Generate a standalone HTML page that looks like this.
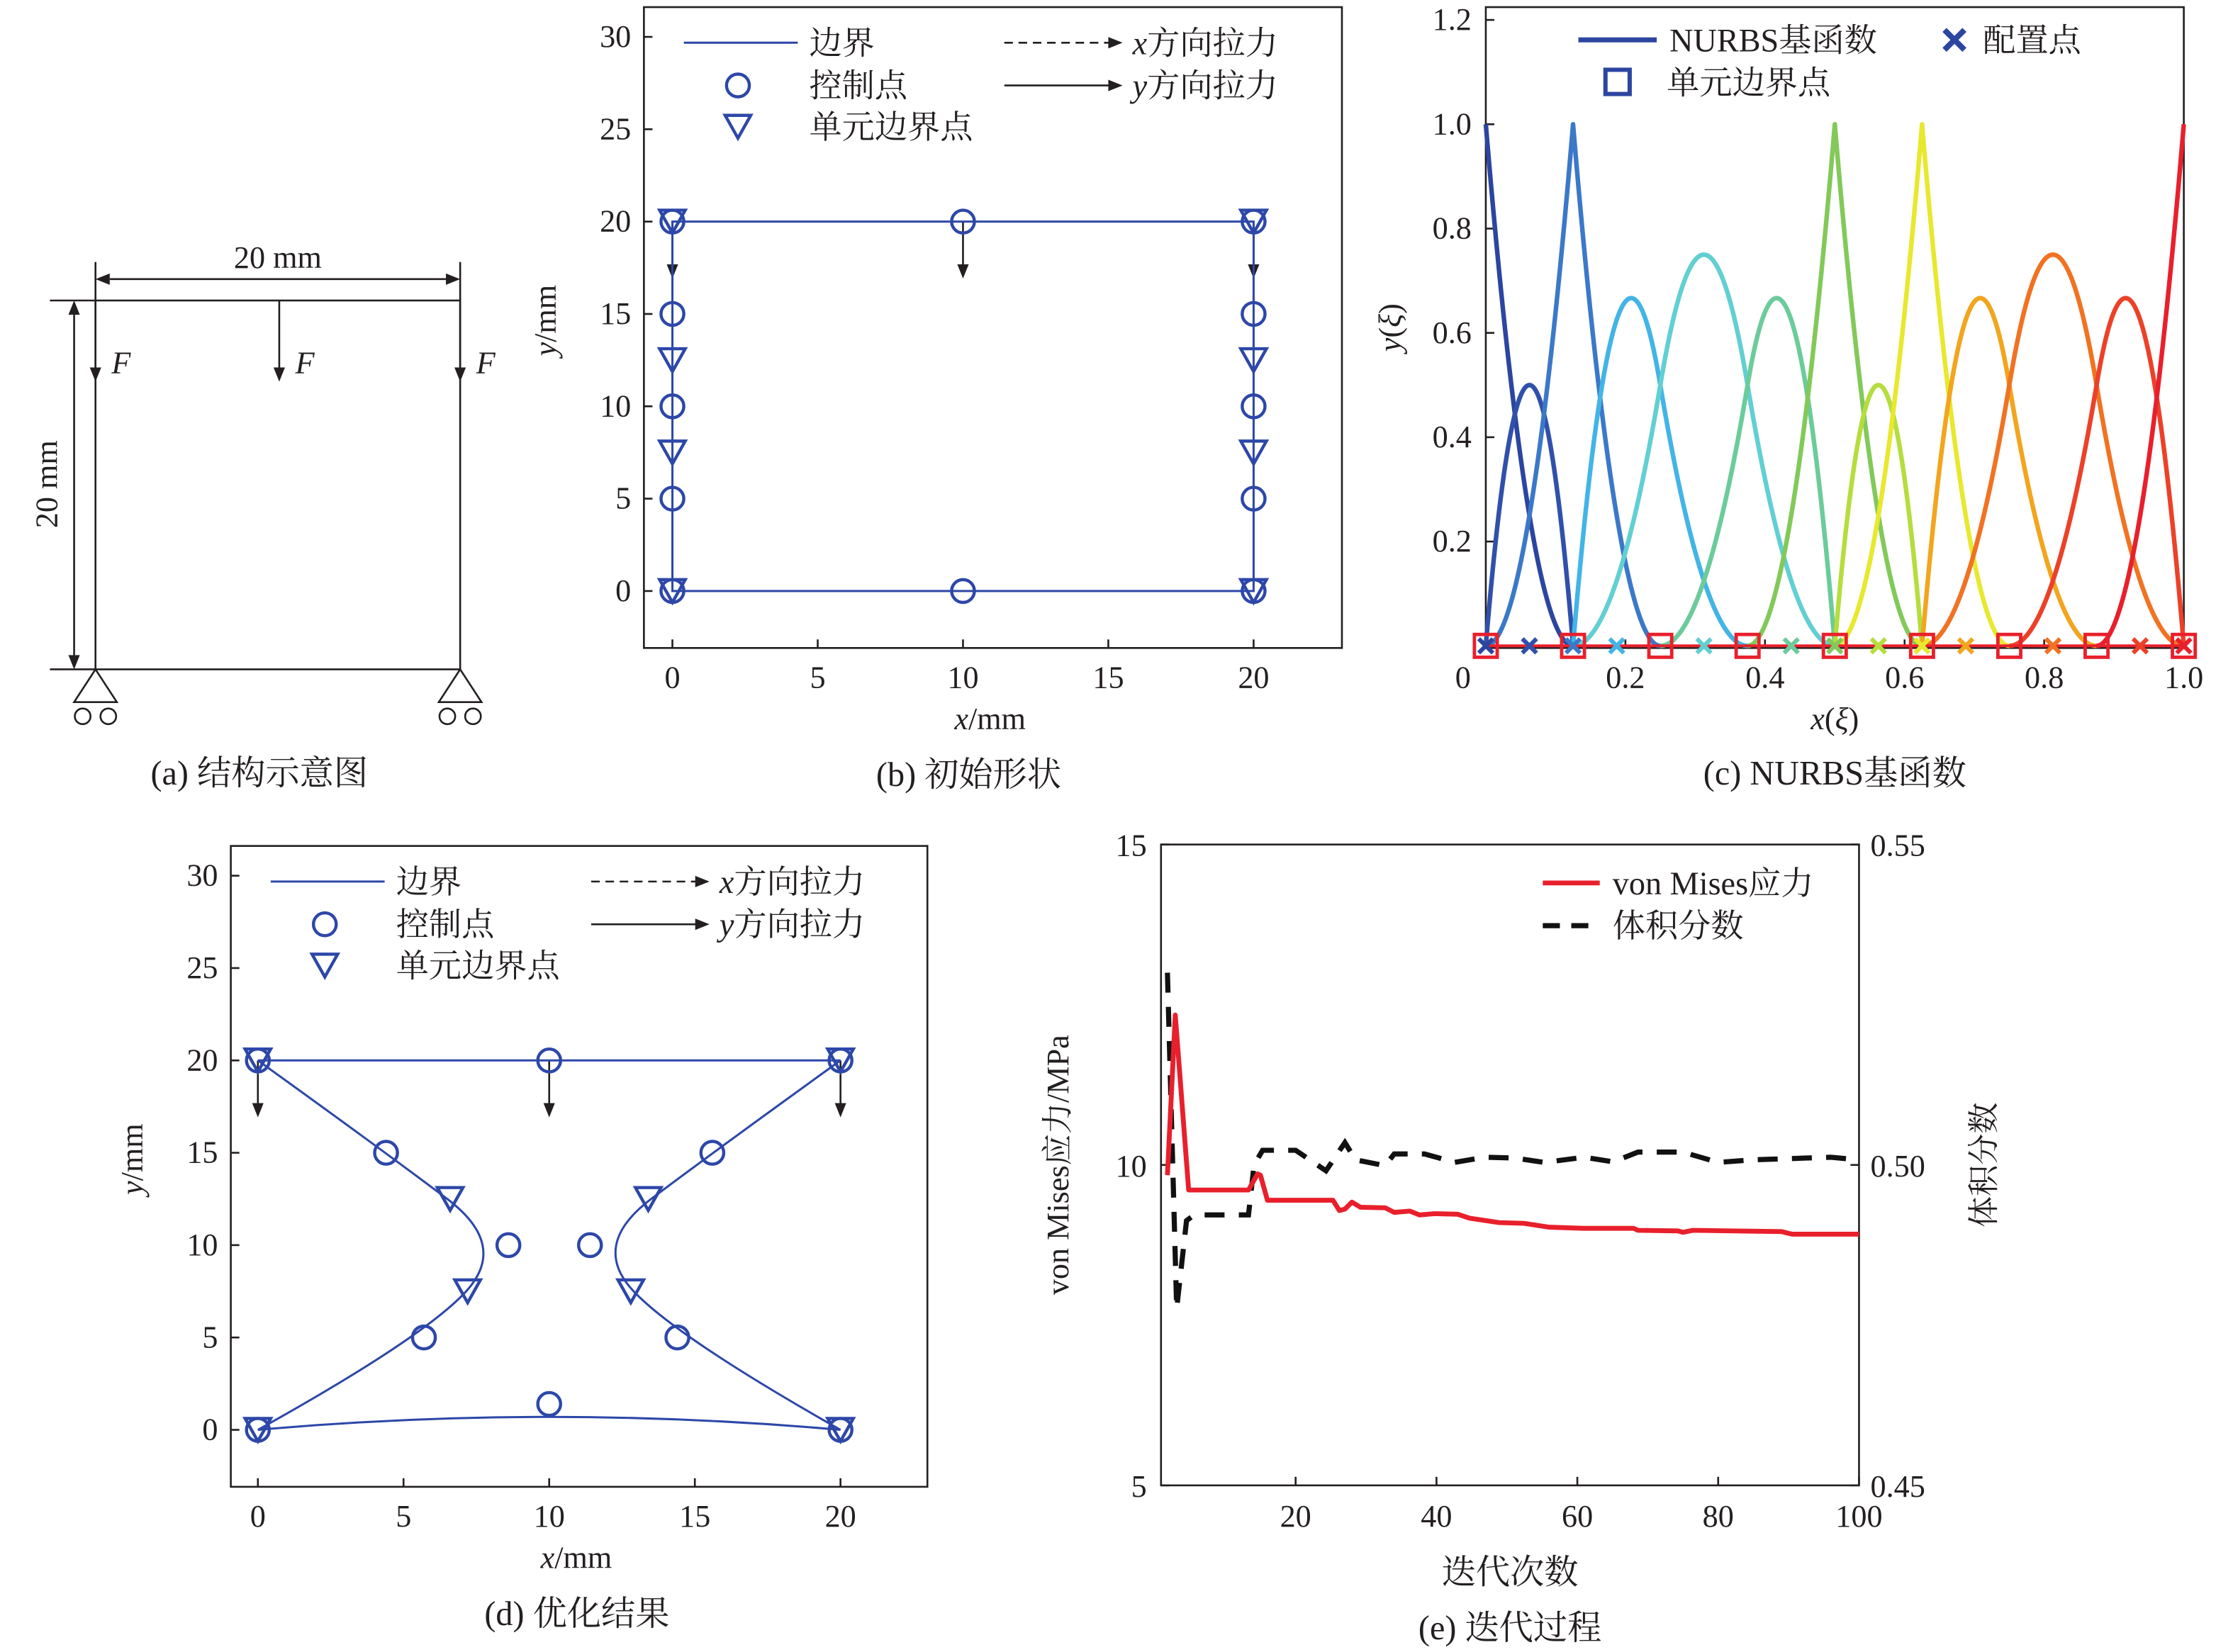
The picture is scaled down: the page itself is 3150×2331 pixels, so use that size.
<!DOCTYPE html>
<html><head><meta charset="utf-8"><style>
html,body{margin:0;padding:0;background:#fff;}
svg{display:block;}
text{font-family:"Liberation Serif","Noto Serif CJK SC",serif;fill:#231f20;}
</style></head><body>
<svg id="fig" xmlns="http://www.w3.org/2000/svg" width="3150" height="2331" viewBox="0 0 1567.5 1160">
<rect x="0" y="0" width="1570" height="1165" fill="#fff"/>
</svg>
<script>
// ---------- data ----------
const bCircleX=[0,0,0,0,0,10,20,20,20,20,20,10];
const bCircleY=[0,5,10,15,20,20,20,15,10,5,0,0];
const bTriX=[0,0,0,0,20,20,20,20];
const bTriY=[0,7.5,12.5,20,0,7.5,12.5,20];
const dLeftX=[0,4.4,8.6,5.7,0];
const dLeftY=[20,15,10,5,0];
const dRightX=[20,15.6,11.4,14.4,20];
const dRightY=[20,15,10,5,0];
const dBottomX=[0,10,20];
const dBottomY=[0,1.4,0];
const dTriX=[0,6.6,7.2,0,20,13.4,12.8,20];
const dTriY=[20,12.5,7.5,0,20,12.5,7.5,0];
const axisTicks=[0,5,10,15,20];
const axisYTicks=[0,5,10,15,20,25,30];
const knots=[0,0,0,0.125,0.125,0.25,0.375,0.5,0.5,0.625,0.625,0.75,0.875,1,1,1];
const basisColors=['#2c45a0','#3050aa','#3b78c8','#43b4e6','#62cfd2','#6ccb9a','#82c95a','#b5dd3e','#e8e82e','#f2a51e','#f17222','#ec4129','#e8202c'];
const collocX=[0,0.0625,0.125,0.1875,0.3125,0.4375,0.5,0.5625,0.625,0.6875,0.8125,0.9375,1];
const elemBounds=[0,0.125,0.25,0.375,0.5,0.625,0.75,0.875,1];
const cXTicks=[0.2,0.4,0.6,0.8,1.0];
const cXTickLabels=['0.2','0.4','0.6','0.8','1.0'];
const cYTicks=[0.2,0.4,0.6,0.8,1.0,1.2];
const cYTickLabels=['0.2','0.4','0.6','0.8','1.0','1.2'];
const stressIter=[1.8,2.9,4.8,13.3,14.6,15,16,25.3,26.2,27,28,29.2,32.7,34,36.2,37.6,39.7,43,44.7,48.9,52.4,56,60.9,68,68.6,74.3,75,76.4,89,90.5,100];
const stressVals=[9.84,12.34,9.61,9.61,9.86,9.84,9.45,9.45,9.29,9.31,9.42,9.34,9.33,9.26,9.28,9.22,9.24,9.23,9.17,9.10,9.09,9.03,9.01,9.01,8.98,8.97,8.95,8.98,8.96,8.92,8.92];
const volIter=[1.8,3.1,4.5,5.6,13.3,14.1,15.3,20,24.3,27,28.5,32.7,34,38.3,42.6,46.8,51,55.3,61,65.1,68.6,75,80,84.9,96,100];
const volVals=[0.530,0.4776,0.4913,0.4922,0.4922,0.500,0.5023,0.5023,0.4991,0.5035,0.5008,0.4999,0.5017,0.5017,0.5004,0.5012,0.5011,0.5004,0.5012,0.5005,0.5020,0.5020,0.5004,0.5008,0.5012,0.5008];
const eXTicks=[20,40,60,80,100];
const eYTicks=[5,10,15];
const eY2Ticks=['0.45','0.50','0.55'];

// ---------- helpers ----------
const NS='http://www.w3.org/2000/svg';
const svg=document.getElementById('fig');
function el(tag,attrs,parent){const e=document.createElementNS(NS,tag);for(const k in attrs)e.setAttribute(k,attrs[k]);(parent||svg).appendChild(e);return e;}
function grp(name){const g=el('g',{});


return g;}
function txt(p,x,y,s,size,anchor,name,extra){const t=el('text',Object.assign({x:x,y:y,'font-size':size,'text-anchor':anchor||'middle'},extra||{}),p);t.textContent=s;


return t;}
function ln(p,x1,y1,x2,y2,c,w,dash){const a={x1:x1,y1:y1,x2:x2,y2:y2,stroke:c||'#231f20','stroke-width':w||1.3};if(dash)a['stroke-dasharray']=dash;return el('line',a,p);}
function arrowDown(p,x,y1,y2){ln(p,x,y1,x,y2-8,'#231f20',1.3);el('path',{d:`M${x-4},${y2-10} L${x+4},${y2-10} L${x},${y2} Z`,fill:'#231f20'},p);}
function arrowRight(p,x1,x2,y,dash){ln(p,x1,y,x2-8,y,'#231f20',1.3,dash);el('path',{d:`M${x2-10},${y-4} L${x2-10},${y+4} L${x2},${y} Z`,fill:'#231f20'},p);}
function arrowLeft(p,x1,x2,y){el('path',{d:`M${x1+10},${y-4} L${x1+10},${y+4} L${x1},${y} Z`,fill:'#231f20'},p);}
const BLUE='#2d47a8';
function circ(p,x,y,name){const c=el('circle',{cx:x,cy:y,r:8,fill:'none',stroke:BLUE,'stroke-width':2.2},p);

}
function tri(p,x,y,name){const t=el('path',{d:`M${x-9},${y-8} L${x+9},${y-8} L${x},${y+8} Z`,fill:'none',stroke:BLUE,'stroke-width':2.2},p);

}

// ---------- panel a ----------
(function(){const g=grp('panel-a-structure');
el('rect',{x:67,y:211,width:256,height:259,fill:'none',stroke:'#231f20','stroke-width':1.3},g);
ln(g,67,184,67,211);ln(g,323,184,323,211);
ln(g,77,196,313,196);arrowLeft(g,67,77,196);
el('path',{d:'M313,192 L313,200 L323,196 Z',fill:'#231f20'},g);
txt(g,195,188,'20 mm',22,'middle','top-dimension-label');
ln(g,35,211,67,211);ln(g,35,470,67,470);
ln(g,52,221,52,460);
el('path',{d:'M48,221 L56,221 L52,211 Z',fill:'#231f20'},g);
el('path',{d:'M48,460 L56,460 L52,470 Z',fill:'#231f20'},g);
txt(g,40,340,'20 mm',22,'middle','left-dimension-label',{transform:'rotate(-90 40 340)'});
[67,196,323].forEach((x,i)=>{arrowDown(g,x,211,268);txt(g,x+18,262,'F',22,'middle','force-label-'+(i+1),{'font-style':'italic'});});
[67,323].forEach((x,i)=>{el('path',{d:`M${x},470 L${x-15},493 L${x+15},493 Z`,fill:'none',stroke:'#231f20','stroke-width':1.3},g);
el('circle',{cx:x-9,cy:503,r:5.5,fill:'none',stroke:'#231f20','stroke-width':1.3},g);
el('circle',{cx:x+9,cy:503,r:5.5,fill:'none',stroke:'#231f20','stroke-width':1.3},g);});
txt(g,182,551,'(a) 结构示意图',24,'middle','caption-a');
})();

// ---------- shared shape panel builder ----------
function shapePanel(name,box,x0,y0,ux,uy,draw,caption,capX){
const g=grp(name);
el('rect',{x:box[0],y:box[1],width:box[2]-box[0],height:box[3]-box[1],fill:'none',stroke:'#231f20','stroke-width':1.3},g);
const X=v=>x0+v*ux, Y=v=>y0-v*uy;
axisTicks.forEach(v=>{ln(g,X(v),box[3],X(v),box[3]-6);txt(g,X(v),box[3]+28,String(v),22,'middle','x-tick-'+v);});
axisYTicks.forEach(v=>{ln(g,box[0],Y(v),box[0]+6,Y(v));txt(g,box[0]-9,Y(v)+7,String(v),22,'end','y-tick-'+v);});
txt(g,(box[0]+box[2])/2-2,box[3]+57,'',22,'middle','x-axis-title').innerHTML='<tspan font-style="italic">x</tspan>/mm';
const yl=box[0]-62, yc=225+(box[1]-5);
txt(g,yl,yc,'',22,'middle','y-axis-title',{transform:`rotate(-90 ${yl} ${yc})`}).innerHTML='<tspan font-style="italic">y</tspan>/mm';
const lx=box[0];const ly=box[1];
ln(g,lx+28,ly+25,lx+108,ly+25,BLUE,1.5);txt(g,lx+116,ly+33,'边界',23,'start','legend-boundary');
circ(g,lx+66,ly+55,'legend-control-point-marker');txt(g,lx+116,ly+63,'控制点',23,'start','legend-control-point');
tri(g,lx+66,ly+84,'legend-element-boundary-marker');txt(g,lx+116,ly+92,'单元边界点',23,'start','legend-element-boundary');
arrowRight(g,lx+253,lx+336,ly+25,'6 4');const t1=txt(g,lx+343,ly+33,'',23,'start','legend-x-traction');t1.innerHTML='<tspan font-style="italic">x</tspan>方向拉力';
arrowRight(g,lx+253,lx+336,ly+55);const t2=txt(g,lx+343,ly+63,'',23,'start','legend-y-traction');t2.innerHTML='<tspan font-style="italic">y</tspan>方向拉力';
[0,10,20].forEach(v=>arrowDown(g,X(v),Y(20),Y(20)+40));
draw(g,X,Y);
txt(g,capX,box[3]+97,caption,24,'middle','caption-'+name.slice(6,7));
}
shapePanel('panel-b-initial-shape',[452,5,942,455],472,415,20.4,12.97,(g,X,Y)=>{
el('rect',{x:X(0),y:Y(20),width:X(20)-X(0),height:Y(0)-Y(20),fill:'none',stroke:BLUE,'stroke-width':1.5},g);
bCircleX.forEach((v,i)=>circ(g,X(v),Y(bCircleY[i]),'control-point-'+i));
bTriX.forEach((v,i)=>tri(g,X(v),Y(bTriY[i]),'element-boundary-'+i));
},'(b) 初始形状',680);

function bspline(px,py,X,Y){const P=px.map((v,i)=>[X(v),Y(py[i])]);
const m=(a,b)=>[(a[0]+b[0])/2,(a[1]+b[1])/2];const m1=m(P[1],P[2]),m2=m(P[2],P[3]);
return `M${P[0]} Q${P[1]} ${m1} Q${P[2]} ${m2} Q${P[3]} ${P[4]}`;}
shapePanel('panel-d-optimized-shape',[162,594,651,1044],181,1004,20.45,12.97,(g,X,Y)=>{
ln(g,X(0),Y(20),X(20),Y(20),BLUE,1.5);
el('path',{d:bspline(dLeftX,dLeftY,X,Y),fill:'none',stroke:BLUE,'stroke-width':1.5},g);
el('path',{d:bspline(dRightX,dRightY,X,Y),fill:'none',stroke:BLUE,'stroke-width':1.5},g);
el('path',{d:`M${X(dBottomX[0])},${Y(dBottomY[0])} Q${X(dBottomX[1])},${Y(dBottomY[1])} ${X(dBottomX[2])},${Y(dBottomY[2])}`,fill:'none',stroke:BLUE,'stroke-width':1.5},g);
const cx=[...dLeftX,10,10,...dRightX.slice(1,4)], cy=[...dLeftY,20,dBottomY[1],...dRightY.slice(1,4)];
cx.forEach((v,i)=>circ(g,X(v),Y(cy[i]),'control-point-'+i));
circ(g,X(20),Y(20),'control-point-tr');circ(g,X(20),Y(0),'control-point-br');
dTriX.forEach((v,i)=>tri(g,X(v),Y(dTriY[i]),'element-boundary-'+i));
},'(d) 优化结果',405);

// ---------- panel c ----------
(function(){const g=grp('panel-c-nurbs-basis');
const L=1043,R=1533,T=5,B=455;const X=v=>L+v*(R-L), Y=v=>453.5-v*366.25;
el('rect',{x:L,y:T,width:R-L,height:B-T,fill:'none',stroke:'#231f20','stroke-width':1.3},g);
cXTicks.forEach((v,i)=>{ln(g,X(v),B,X(v),B-6);txt(g,X(v),B+28,cXTickLabels[i],22,'middle','c-x-tick-'+i);});
txt(g,1027,B+28,'0',22,'middle','c-x-tick-0');
cYTicks.forEach((v,i)=>{ln(g,L,Y(v),L+6,Y(v));txt(g,L-10,Y(v)+7,cYTickLabels[i],22,'end','c-y-tick-'+i);});
txt(g,1288,512,'',22,'middle','c-x-axis-title').innerHTML='<tspan font-style="italic">x</tspan>(<tspan font-style="italic">ξ</tspan>)';
txt(g,983,230,'',22,'middle','c-y-axis-title',{transform:'rotate(-90 983 230)'}).innerHTML='<tspan font-style="italic">y</tspan>(<tspan font-style="italic">ξ</tspan>)';
function N(i,p,u){if(p===0){if(knots[i]<=u&&u<knots[i+1])return 1;if(u===1&&knots[i+1]===1&&knots[i]<1)return 1;return 0;}
let a=0,b=0;const d1=knots[i+p]-knots[i],d2=knots[i+p+1]-knots[i+1];
if(d1>0)a=(u-knots[i])/d1*N(i,p-1,u);if(d2>0)b=(knots[i+p+1]-u)/d2*N(i+1,p-1,u);return a+b;}
const nb=knots.length-3;
for(let i=0;i<nb;i++){let d='';for(let k=0;k<=800;k++){const u=k/800;const v=N(i,2,u);
if(u<knots[i]-1e-9||u>knots[i+3]+1e-9)continue;d+=(d?'L':'M')+X(u).toFixed(2)+','+Y(v).toFixed(2);}
const pth=el('path',{d:d,fill:'none',stroke:basisColors[i],'stroke-width':3.2,'stroke-linejoin':'round'},g);

}
ln(g,L,Y(0),R,Y(0),'#e8202c',2);
collocX.forEach((v,i)=>{const x=X(v),y=Y(0);const c=el('path',{d:`M${x-5},${y-5}L${x+5},${y+5}M${x-5},${y+5}L${x+5},${y-5}`,stroke:basisColors[i],'stroke-width':3},g);

});
elemBounds.forEach((v,i)=>{const s=el('rect',{x:X(v)-8,y:Y(0)-8,width:16,height:16,fill:'none',stroke:'#e8202c','stroke-width':2.4},g);

});
ln(g,1108,28,1163,28,'#2c45a0',3.5);txt(g,1172,36,'NURBS基函数',23,'start','legend-basis');
el('path',{d:'M1365,21L1379,35M1365,35L1379,21',stroke:'#2c45a0','stroke-width':4},g);txt(g,1392,36,'配置点',23,'start','legend-collocation');
el('rect',{x:1127,y:49,width:17,height:17,fill:'none',stroke:'#2c45a0','stroke-width':3},g);txt(g,1170,66,'单元边界点',23,'start','legend-element-boundary');
txt(g,1288,551,'(c) NURBS基函数',24,'middle','caption-c');
})();

// ---------- panel e ----------
(function(){const g=grp('panel-e-iterations');
const L=815,R=1305,T=593,B=1043;
const X=v=>909.5+(v-20)*(R-909.5)/80, Y=v=>B-(v-5)*(B-T)/10, Y2=v=>B-(v-0.45)*(B-T)/0.1;
el('rect',{x:L,y:T,width:R-L,height:B-T,fill:'none',stroke:'#231f20','stroke-width':1.3},g);
eXTicks.forEach(v=>{ln(g,X(v),B,X(v),B-6);txt(g,X(v),B+29,String(v),22,'middle','e-x-tick-'+v);});
eYTicks.forEach(v=>{ln(g,L,Y(v),L+6,Y(v));txt(g,L-10,Y(v)+8,String(v),22,'end','e-y-tick-'+v);});
eY2Ticks.forEach((s,i)=>{const v=parseFloat(s);ln(g,R,Y2(v),R-6,Y2(v));txt(g,R+8,Y2(v)+8,s,22,'start','e-y2-tick-'+i);});
txt(g,1060,1112,'迭代次数',24,'middle','e-x-axis-title');
txt(g,750,818,'von Mises应力/MPa',22,'middle','e-y-axis-title',{transform:'rotate(-90 750 818)'});
txt(g,1400,818,'体积分数',22,'middle','e-y2-axis-title',{transform:'rotate(-90 1400 818)'});
let d='';volIter.forEach((v,i)=>{d+=(i?'L':'M')+X(v).toFixed(1)+','+Y2(volVals[i]).toFixed(1);});
const vp=el('path',{d:d,fill:'none',stroke:'#111','stroke-width':3.6,'stroke-dasharray':'14 10'},g);


d='';stressIter.forEach((v,i)=>{d+=(i?'L':'M')+X(v).toFixed(1)+','+Y(stressVals[i]).toFixed(1);});
const sp=el('path',{d:d,fill:'none',stroke:'#e8202c','stroke-width':3.4,'stroke-linejoin':'round'},g);


ln(g,1083,620,1123,620,'#e8202c',3.4);txt(g,1132,628,'von Mises应力',23,'start','legend-stress');
ln(g,1083,650,1123,650,'#111',3.6,'12 8');txt(g,1132,658,'体积分数',23,'start','legend-volume');
txt(g,1060,1151,'(e) 迭代过程',24,'middle','caption-e');
})();
</script>
</body></html>
